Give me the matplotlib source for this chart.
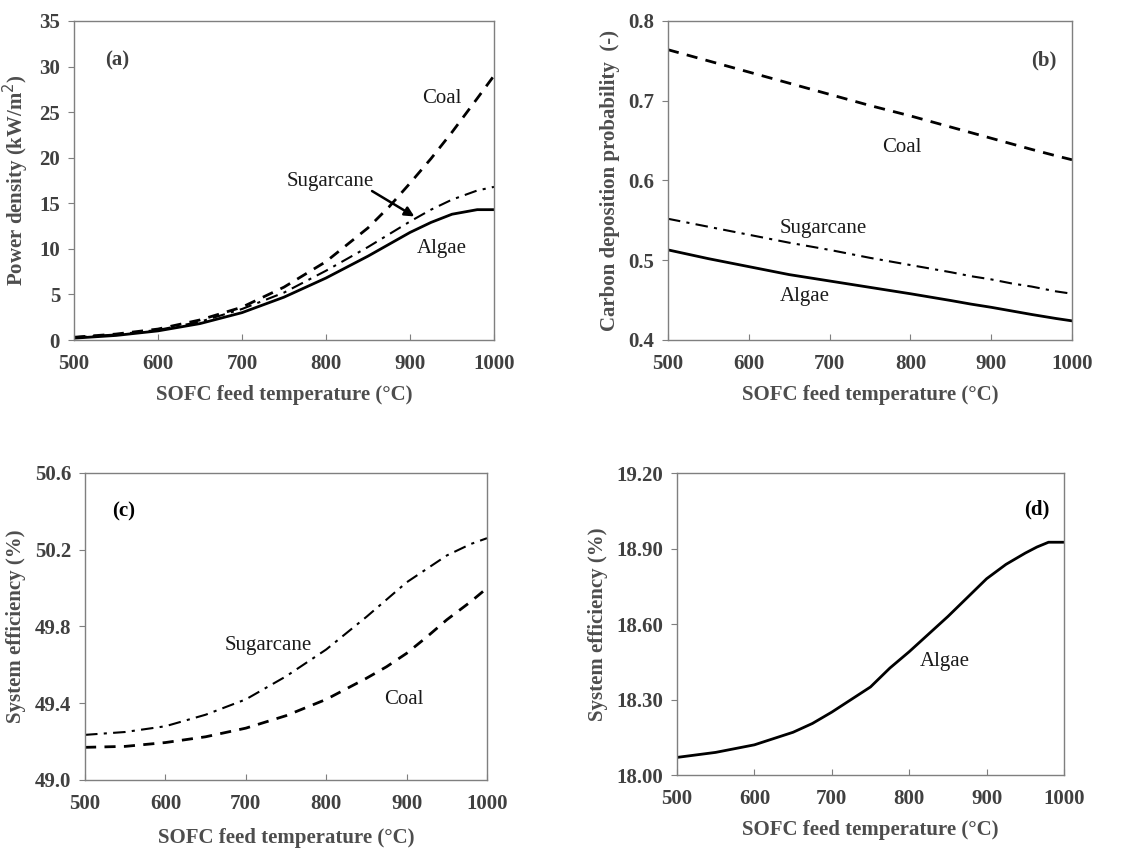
import matplotlib
matplotlib.use("Agg")
import matplotlib.pyplot as plt
import numpy as np

plt.rcParams["font.family"] = ["Liberation Serif", "DejaVu Serif"]

temp = [500, 550, 600, 650, 700, 750, 800, 850, 875, 900, 925, 950, 980, 1000]

# (a) power density, kW/m2
pd_coal = [0.3, 0.65, 1.2, 2.2, 3.6, 5.8, 8.6, 12.3, 14.6, 17.2, 19.9, 22.8, 26.5, 29.0]
pd_sugar = [0.3, 0.6, 1.1, 2.0, 3.4, 5.2, 7.6, 10.2, 11.6, 13.0, 14.3, 15.4, 16.4, 16.8]
pd_algae = [0.2, 0.5, 1.0, 1.8, 3.0, 4.7, 6.8, 9.2, 10.5, 11.8, 12.9, 13.8, 14.3, 14.3]

# (b) carbon deposition probability
cd_coal = [0.764, 0.750, 0.736, 0.722, 0.708, 0.694, 0.681, 0.667, 0.660, 0.653, 0.646, 0.639, 0.631, 0.626]
cd_sugar = [0.552, 0.542, 0.532, 0.522, 0.513, 0.503, 0.494, 0.485, 0.480, 0.476, 0.471, 0.467, 0.461, 0.458]
cd_algae = [0.513, 0.502, 0.492, 0.482, 0.474, 0.466, 0.458, 0.4495, 0.445, 0.441, 0.4365, 0.432, 0.427, 0.424]

# (c) system efficiency, coal and sugarcane
eff_sugar = [49.235, 49.25, 49.28, 49.34, 49.42, 49.54, 49.68, 49.85, 49.94, 50.03, 50.10, 50.17, 50.23, 50.26]
eff_coal = [49.17, 49.175, 49.195, 49.225, 49.27, 49.335, 49.42, 49.53, 49.59, 49.66, 49.745, 49.835, 49.93, 50.0]

# (d) system efficiency, algae
temp_d = [500, 550, 600, 625, 650, 675, 700, 725, 750, 775, 800, 825, 850, 875, 900, 925, 950, 965, 980, 1000]
eff_algae = [18.07, 18.09, 18.12, 18.145, 18.17, 18.205, 18.25, 18.30, 18.35, 18.425, 18.49, 18.56,
             18.63, 18.705, 18.78, 18.837, 18.882, 18.906, 18.925, 18.925]

xticks = [500, 600, 700, 800, 900, 1000]
xlabel = "SOFC feed temperature (\u00b0C)"

tick_col = "#404040"
lab_col = "#4d4d4d"
txt_col = "#1a1a1a"
dash = (0, (4, 3))
dashdot = (0, (6, 3, 1.5, 3))

fig = plt.figure(figsize=(11.43, 8.5), dpi=100)


def style(ax, yticks, fmt, ylabel, xlabpad=8):
    ax.set_xlim(500, 1000)
    ax.set_xticks(xticks)
    ax.set_ylim(yticks[0], yticks[-1])
    ax.set_yticks(yticks)
    ax.set_yticklabels([fmt.format(v) for v in yticks])
    for s in ax.spines.values():
        s.set_color("#7f7f7f")
        s.set_linewidth(1.0)
    ax.tick_params(axis="x", direction="in", length=4, color="#7f7f7f", pad=10)
    ax.tick_params(axis="y", direction="out", length=4, color="#7f7f7f", pad=6)
    for lbl in ax.get_xticklabels() + ax.get_yticklabels():
        lbl.set_fontsize(15)
        lbl.set_fontweight("bold")
        lbl.set_color(tick_col)
    ax.set_xlabel(xlabel, fontsize=15, fontweight="bold", color=lab_col, labelpad=xlabpad)
    ax.set_ylabel(ylabel, fontsize=15, fontweight="bold", color=lab_col, labelpad=6)


# (a)
ax = fig.add_axes([0.0647, 0.6, 0.3675, 0.3753])
ax.plot(temp, pd_coal, color="black", lw=2, linestyle=dash)
ax.plot(temp, pd_sugar, color="black", lw=1.5, linestyle=dashdot)
ax.plot(temp, pd_algae, color="black", lw=2)
style(ax, list(range(0, 36, 5)), "{:d}", "Power density (kW/m$^2$)")
ax.text(551, 30.7, "(a)", fontsize=15, fontweight="bold", color=tick_col, ha="center", va="center")
ax.text(938, 26.5, "Coal", fontsize=15, color=txt_col, ha="center", va="center")
ax.text(805, 17.35, "Sugarcane", fontsize=15, color=txt_col, ha="center", va="center")
ax.text(938, 10.05, "Algae", fontsize=15, color=txt_col, ha="center", va="center")
ax.annotate("", xy=(908, 13.4), xytext=(852, 16.5),
            arrowprops=dict(arrowstyle="-|>", color="black", lw=1.8, mutation_scale=14))

# (b)
ax = fig.add_axes([0.5844, 0.6, 0.3535, 0.3753])
ax.plot(temp, cd_coal, color="black", lw=2, linestyle=dash)
ax.plot(temp, cd_sugar, color="black", lw=1.5, linestyle=dashdot)
ax.plot(temp, cd_algae, color="black", lw=2)
style(ax, [0.4, 0.5, 0.6, 0.7, 0.8], "{:.1f}", "Carbon deposition probability  (-)")
ax.text(965, 0.751, "(b)", fontsize=15, fontweight="bold", color=tick_col, ha="center", va="center")
ax.text(789, 0.642, "Coal", fontsize=15, color=txt_col, ha="center", va="center")
ax.text(692, 0.54, "Sugarcane", fontsize=15, color=txt_col, ha="center", va="center")
ax.text(669, 0.454, "Algae", fontsize=15, color=txt_col, ha="center", va="center")

# (c)
ax = fig.add_axes([0.0744, 0.0824, 0.3517, 0.3612])
ax.plot(temp, eff_sugar, color="black", lw=1.5, linestyle=dashdot)
ax.plot(temp, eff_coal, color="black", lw=2, linestyle=dash)
style(ax, [49.0, 49.4, 49.8, 50.2, 50.6], "{:.1f}", "System efficiency (%)", xlabpad=10)
ax.text(548, 50.40, "(c)", fontsize=15, fontweight="bold", color="black", ha="center", va="center")
ax.text(728, 49.70, "Sugarcane", fontsize=15, color=txt_col, ha="center", va="center")
ax.text(896, 49.417, "Coal", fontsize=15, color=txt_col, ha="center", va="center")

# (d)
ax = fig.add_axes([0.5923, 0.0882, 0.3386, 0.3553])
ax.plot(temp_d, eff_algae, color="black", lw=2)
style(ax, [18.0, 18.3, 18.6, 18.9, 19.2], "{:.2f}", "System efficiency (%)")
ax.text(965, 19.054, "(d)", fontsize=15, fontweight="bold", color="black", ha="center", va="center")
ax.text(846, 18.45, "Algae", fontsize=15, color=txt_col, ha="center", va="center")

fig.savefig("out.png", dpi=100)
